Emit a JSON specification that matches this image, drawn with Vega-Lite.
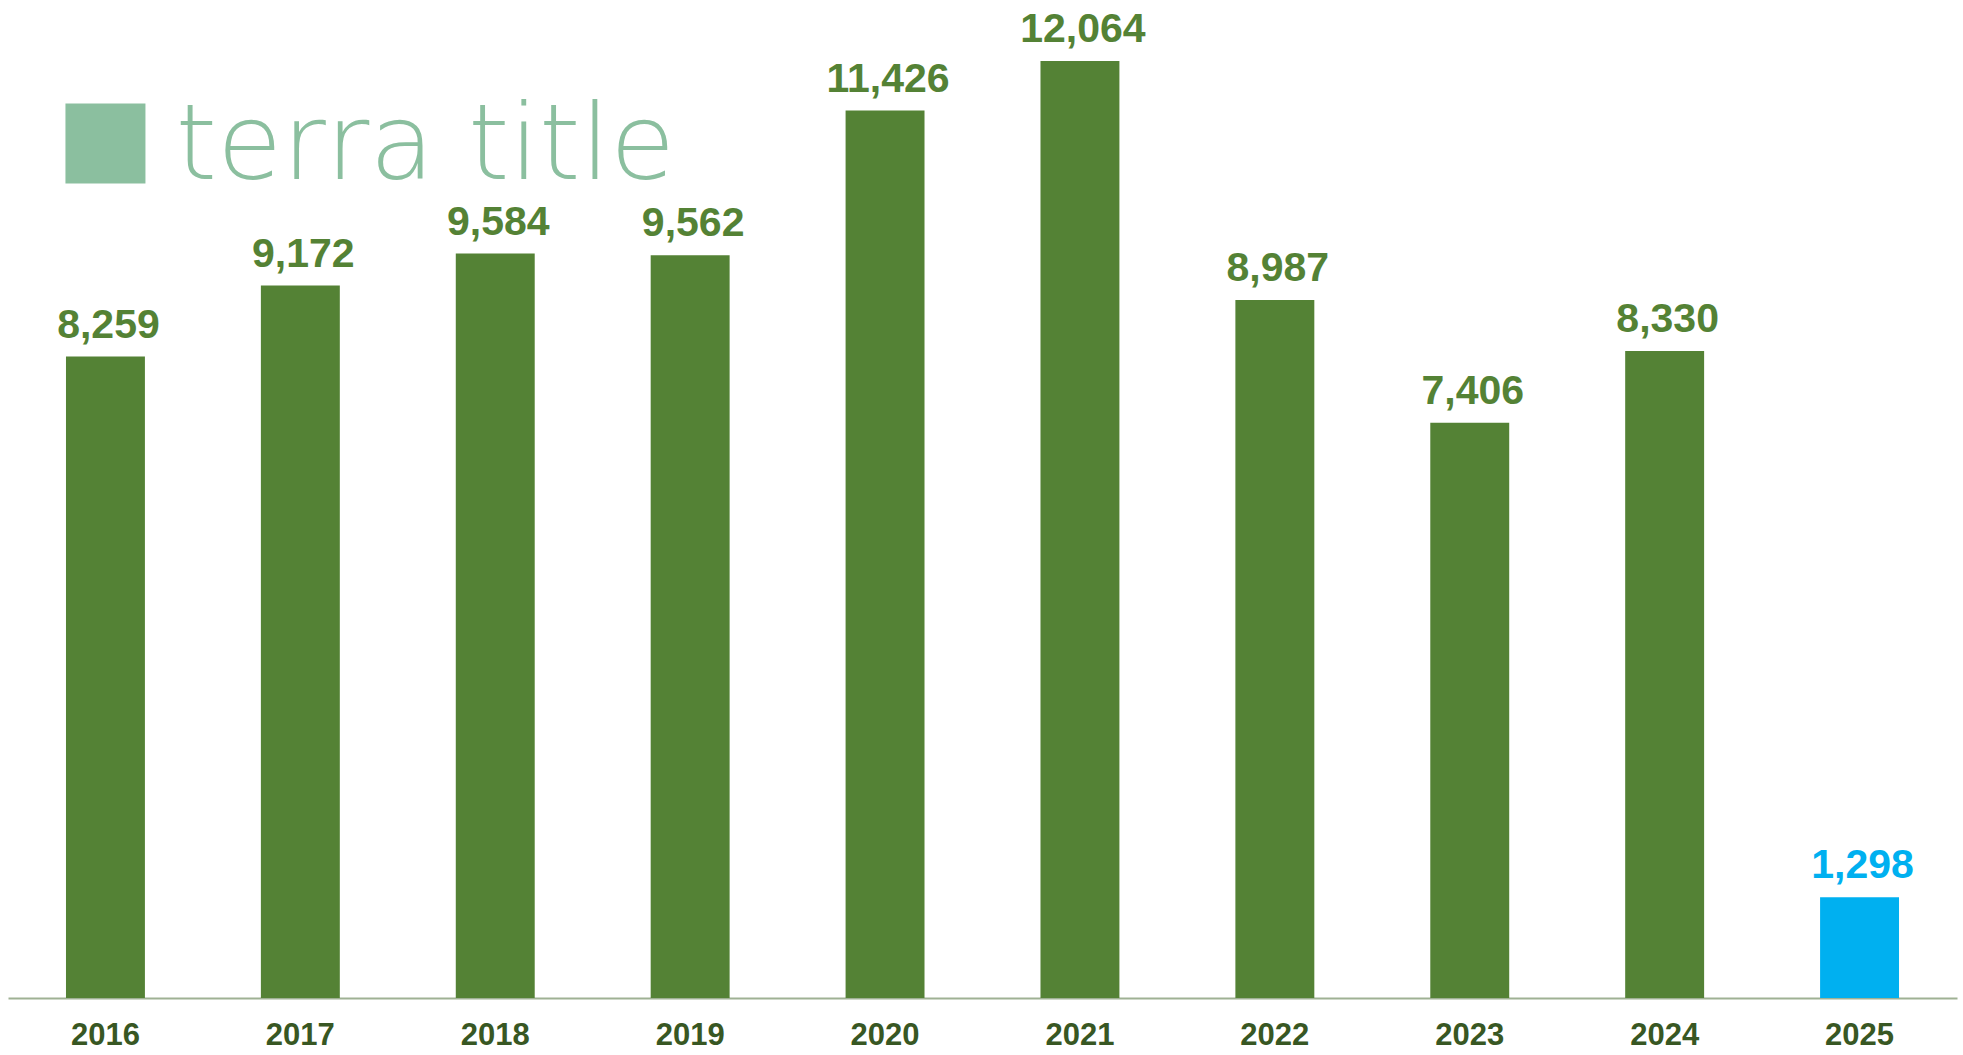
{
  "$schema": "https://vega.github.io/schema/vega-lite/v6.json",
  "width": 1949,
  "height": 998,
  "autosize": {"type": "none"},
  "padding": {"left": 8, "top": 0, "right": 6, "bottom": 57},
  "background": "white",
  "config": {"view": {"stroke": null}},
  "datasets": {
    "sales": [
      {"year": "2016", "value": 8259, "kind": "past"},
      {"year": "2017", "value": 9172, "kind": "past"},
      {"year": "2018", "value": 9584, "kind": "past"},
      {"year": "2019", "value": 9562, "kind": "past"},
      {"year": "2020", "value": 11426, "kind": "past"},
      {"year": "2021", "value": 12064, "kind": "past"},
      {"year": "2022", "value": 8987, "kind": "past"},
      {"year": "2023", "value": 7406, "kind": "past"},
      {"year": "2024", "value": 8330, "kind": "past"},
      {"year": "2025", "value": 1298, "kind": "current"}
    ],
    "logo": [
      {"year": "2016", "value": 11000, "textv": 10545, "name": "terra title"}
    ]
  },
  "encoding": {
    "x": {
      "field": "year",
      "type": "nominal",
      "sort": null,
      "scale": {"paddingInner": 0.595, "paddingOuter": 0.2975},
      "axis": {
        "title": null,
        "labelAngle": 0,
        "ticks": false,
        "domainColor": "#9fb194",
        "domainWidth": 2,
        "labelFont": "Liberation Sans",
        "labelFontWeight": "bold",
        "labelFontSize": 31,
        "labelColor": "#385723",
        "labelPadding": 22
      }
    }
  },
  "layer": [
    {
      "data": {"name": "sales"},
      "mark": {"type": "bar"},
      "encoding": {
        "y": {"field": "value", "type": "quantitative", "scale": {"domain": [0, 12849], "nice": false}, "axis": null},
        "color": {"field": "kind", "type": "nominal", "scale": {"domain": ["past", "current"], "range": ["#548235", "#00B0F0"]}, "legend": null}
      }
    },
    {
      "data": {"name": "sales"},
      "mark": {"type": "text", "baseline": "alphabetic", "dy": -19, "dx": 3, "font": "Liberation Sans", "fontWeight": "bold", "fontSize": 41},
      "encoding": {
        "y": {"field": "value", "type": "quantitative"},
        "text": {"field": "value", "type": "quantitative", "format": ","},
        "color": {"field": "kind", "type": "nominal", "legend": null}
      }
    },
    {
      "data": {"name": "logo"},
      "mark": {"type": "point", "shape": "square", "filled": true, "size": 6400, "opacity": 1, "color": "#8BBF9F"},
      "encoding": {
        "y": {"field": "value", "type": "quantitative"}
      }
    },
    {
      "data": {"name": "logo"},
      "mark": {"type": "text", "align": "left", "baseline": "alphabetic", "dx": 70, "font": "DejaVu Sans", "fontWeight": 200, "fontSize": 106, "color": "#8BBF9F"},
      "encoding": {
        "y": {"field": "textv", "type": "quantitative"},
        "text": {"field": "name"}
      }
    }
  ]
}
